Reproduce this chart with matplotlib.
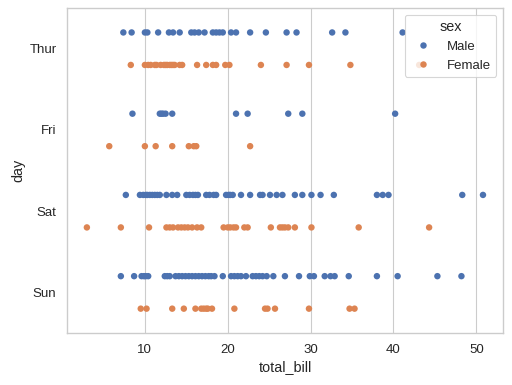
import matplotlib
matplotlib.use("Agg")
import matplotlib.pyplot as plt
import seaborn as sns
import pandas as pd

days = ["Thur", "Fri", "Sat", "Sun"]
sexes = ["Male", "Female"]

thur_male = [7.4, 8.4, 10.0, 10.3, 11.6, 12.9, 13.4, 14.2, 15.6, 16.0, 16.5, 17.2, 18.2, 18.6,
             19.0, 19.4, 20.4, 21.0, 22.7, 24.6, 27.1, 28.3, 32.6, 34.2, 41.1]
thur_female = [8.3, 10.0, 10.4, 10.7, 11.2, 11.4, 11.9, 12.3, 12.5, 12.7, 13.0, 13.2, 13.4, 13.6,
               14.2, 14.5, 16.3, 17.4, 18.2, 18.6, 19.7, 20.2, 24.0, 27.1, 29.8, 34.8, 43.1]
fri_male = [8.5, 11.8, 12.0, 12.2, 12.5, 13.3, 21.0, 22.4, 27.3, 29.0, 40.2]
fri_female = [5.7, 10.0, 11.3, 13.3, 15.3, 15.9, 16.2, 22.7]
sat_male = [7.7, 9.4, 9.8, 10.1, 10.3, 10.6, 10.9, 11.2, 11.5, 11.8, 12.6, 13.3, 13.9, 15.0,
            15.4, 15.8, 16.1, 16.4, 17.4, 17.8, 18.3, 18.6, 19.8, 20.1, 20.3, 20.6, 21.6, 22.7,
            23.9, 24.2, 25.1, 25.9, 26.6, 28.1, 29.0, 30.1, 31.2, 32.8, 38.0, 38.7, 39.4, 48.3, 50.8]
sat_female = [3.0, 7.1, 10.5, 12.6, 13.0, 13.4, 14.0, 14.4, 14.8, 15.2, 15.7, 16.3, 16.8, 19.5,
              20.0, 20.3, 20.7, 21.0, 22.0, 22.4, 25.2, 26.3, 26.6, 26.9, 27.3, 28.1, 30.1, 35.8, 44.3]
sun_male = [7.1, 8.7, 9.6, 9.9, 10.1, 10.4, 12.4, 12.7, 13.0, 13.7, 14.1, 14.5, 14.9, 15.3,
            15.7, 16.1, 16.5, 16.9, 17.3, 17.7, 18.0, 18.4, 19.4, 20.4, 20.8, 21.2, 21.6, 22.2,
            23.0, 23.4, 23.8, 24.2, 24.7, 25.5, 26.9, 28.6, 29.9, 30.4, 31.7, 32.4, 32.9, 34.6,
            38.0, 40.5, 45.3, 48.2]
sun_female = [9.5, 10.2, 13.3, 14.7, 16.1, 16.8, 17.1, 17.4, 17.6, 18.1, 20.8, 24.5, 24.8, 25.7,
              29.8, 34.7, 35.3]

groups = {
    ("Thur", "Male"): thur_male, ("Thur", "Female"): thur_female,
    ("Fri", "Male"): fri_male, ("Fri", "Female"): fri_female,
    ("Sat", "Male"): sat_male, ("Sat", "Female"): sat_female,
    ("Sun", "Male"): sun_male, ("Sun", "Female"): sun_female,
}

rows = []
for (d, s), vals in groups.items():
    for v in vals:
        rows.append({"total_bill": v, "day": d, "sex": s})
tips = pd.DataFrame(rows)

sns.set_theme(style="whitegrid", font_scale=1.08)
plt.rcParams["font.family"] = ["Liberation Sans", "DejaVu Sans"]

fig = plt.figure(figsize=(6.4, 4.8125), dpi=80)
ax = fig.add_axes([0.131, 0.135, 0.851, 0.844])
sns.stripplot(data=tips, x="total_bill", y="day", hue="sex", order=days, hue_order=sexes,
              jitter=False, dodge=True, size=5.8, ax=ax)
sns.move_legend(ax, "upper right")

fig.savefig("out.png", dpi=80)
